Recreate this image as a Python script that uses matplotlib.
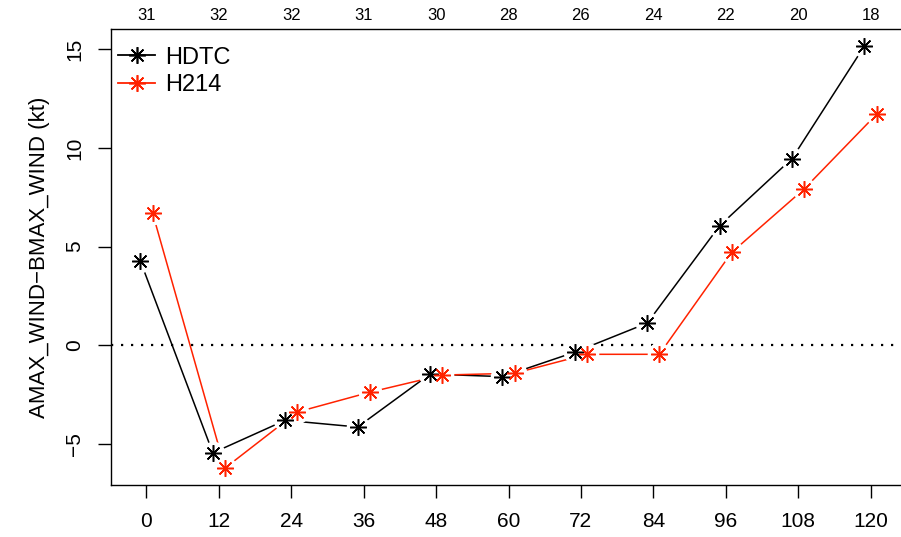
import matplotlib
matplotlib.use("Agg")
import matplotlib.pyplot as plt
import matplotlib.transforms as mtransforms
import numpy as np

plt.rcParams['font.family'] = ['Liberation Sans', 'DejaVu Sans']

lead_hours = [0, 12, 24, 36, 48, 60, 72, 84, 96, 108, 120]
case_counts = [31, 32, 32, 31, 30, 28, 26, 24, 22, 20, 18]
hdtc = [4.26, -5.44, -3.79, -4.13, -1.45, -1.58, -0.34, 1.13, 6.06, 9.46, 15.16]
h214 = [6.71, -6.21, -3.37, -2.37, -1.50, -1.41, -0.45, -0.45, 4.71, 7.92, 11.70]
series_names = ["HDTC", "H214"]
series_colors = ["black", "#ff2200"]
offsets = [-1.0, 1.0]

fig = plt.figure(figsize=(9.01, 5.37), dpi=100)
ax = fig.add_axes([111/901, 52/537, (906-111)/901, (485-29)/537])

xs_all = []
for vals, name, col, off in zip([hdtc, h214], series_names, series_colors, offsets):
    x = np.array(lead_hours) + off
    xs_all.extend(x)
    ax.plot(x, vals, color=col, lw=1.1, zorder=2)
for vals, col, off in zip([hdtc, h214], series_colors, offsets):
    x = np.array(lead_hours) + off
    ax.plot(x, vals, ls='none', marker='o', ms=17, mfc='white', mec='none', zorder=3)
for vals, name, col, off in zip([hdtc, h214], series_names, series_colors, offsets):
    x = np.array(lead_hours) + off
    ax.plot(x, vals, ls='none', marker=(8, 2, 0), ms=12, mew=1.1, color=col, zorder=4)

# legend handles
handles = [plt.Line2D([], [], color=c, lw=1.3, marker=(8, 2, 0), ms=12, mew=1.2) for c in series_colors]
ax.legend(handles, series_names, loc='upper left', frameon=False, fontsize=17,
          handlelength=1.6, handletextpad=0.42, borderaxespad=0.0, labelspacing=0.22,
          borderpad=0.28, bbox_to_anchor=(0.0, 1.0 - 11/456))

ax.axhline(0, color='black', ls=(0, (1, 3.5)), lw=1.6, zorder=1)

allv = hdtc + h214
ymin, ymax = min(allv), max(allv)
pad = 0.04 * (ymax - ymin)
ax.set_ylim(ymin - pad, ymax + pad)
xmin, xmax = min(xs_all), max(xs_all)
xpad = 0.04 * (xmax - xmin)
ax.set_xlim(xmin - xpad, xmax + xpad)

ax.set_xticks(lead_hours)
ax.set_xticklabels([str(h) for h in lead_hours])
ax.set_yticks([-5, 0, 5, 10, 15])
ax.set_yticklabels(['\u22125', '0', '5', '10', '15'], rotation=90, va='center')
ax.tick_params(axis='both', direction='out', length=9.5, width=1.0, labelsize=15, pad=10)
ax.set_ylabel('AMAX_WIND\u2212BMAX_WIND (kt)', fontsize=16, labelpad=11)

trans = mtransforms.blended_transform_factory(ax.transData, fig.transFigure)
for h, c in zip(lead_hours, case_counts):
    ax.text(h, 1 - 16/537, str(c), transform=trans, ha='center', va='center', fontsize=12)

for s in ax.spines.values():
    s.set_linewidth(1.0)

fig.savefig('out.png', dpi=100)
